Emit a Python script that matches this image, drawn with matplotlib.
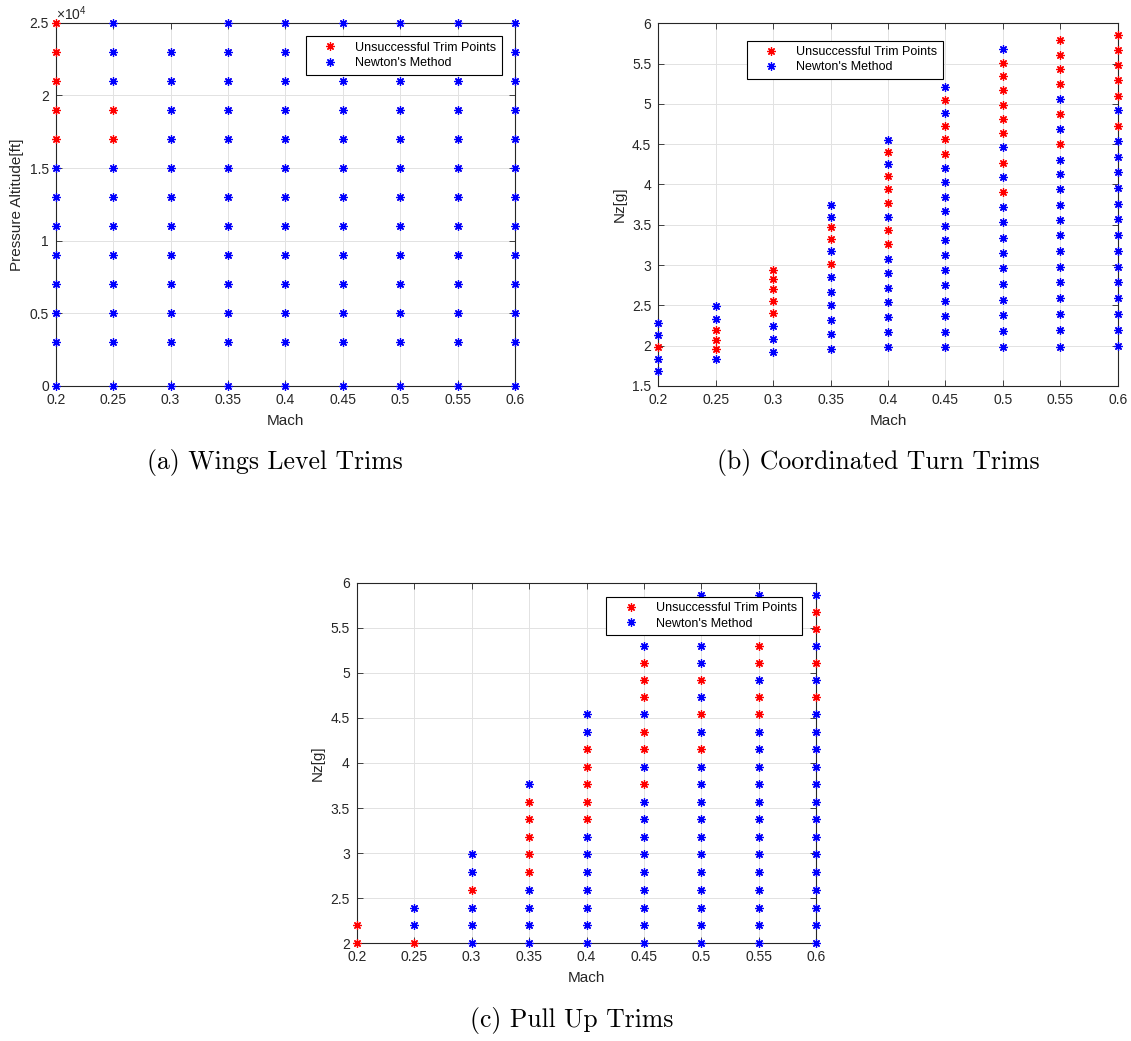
import matplotlib
matplotlib.use('Agg')
import matplotlib.pyplot as plt
from matplotlib.ticker import FuncFormatter

plt.rcParams['font.family'] = ['Liberation Sans', 'DejaVu Sans']
plt.rcParams['mathtext.fontset'] = 'custom'
plt.rcParams['mathtext.rm'] = 'Liberation Sans'
plt.rcParams['mathtext.it'] = 'Liberation Sans:italic'
plt.rcParams['axes.unicode_minus'] = False

# ---------------- data ----------------
MACH = [0.2, 0.25, 0.3, 0.35, 0.4, 0.45, 0.5, 0.55, 0.6]
MACH_LABELS = ['0.2', '0.25', '0.3', '0.35', '0.4', '0.45', '0.5', '0.55', '0.6']

# (a) Wings level: pressure altitude [ft] tried at each Mach, and the unsuccessful ones
ALT_FULL = [0, 3000, 5000, 7000, 9000, 11000, 13000, 15000, 17000, 19000, 21000, 23000, 25000]
ALT_NO_TOP = [0, 3000, 5000, 7000, 9000, 11000, 13000, 15000, 17000, 19000, 21000, 23000]
wl_alt = [ALT_FULL, ALT_FULL, ALT_NO_TOP, ALT_FULL, ALT_FULL, ALT_FULL, ALT_FULL, ALT_FULL, ALT_FULL]
wl_fail = [[17000, 19000, 21000, 23000, 25000], [17000, 19000], [], [], [], [], [], [], []]
wl_yticks = [0, 5000, 10000, 15000, 20000, 25000]

# (b) Coordinated turn: Nz [g]
ct_nz = [
    [1.68, 1.83, 1.98, 2.13, 2.28],
    [1.83, 1.96, 2.07, 2.20, 2.33, 2.49],
    [1.92, 2.08, 2.25, 2.41, 2.56, 2.70, 2.83, 2.94],
    [1.96, 2.14, 2.32, 2.50, 2.67, 2.85, 3.01, 3.17, 3.32, 3.47, 3.60, 3.74],
    [1.98, 2.17, 2.36, 2.54, 2.72, 2.90, 3.08, 3.26, 3.43, 3.60, 3.77, 3.94, 4.10, 4.26, 4.40, 4.55],
    [1.98, 2.17, 2.37, 2.56, 2.75, 2.94, 3.13, 3.31, 3.49, 3.67, 3.85, 4.03, 4.21, 4.38, 4.56, 4.72,
     4.89, 5.05, 5.21],
    [1.98, 2.18, 2.38, 2.57, 2.77, 2.96, 3.15, 3.34, 3.53, 3.72, 3.91, 4.09, 4.27, 4.46, 4.64, 4.81,
     4.99, 5.17, 5.34, 5.51, 5.68],
    [1.99, 2.19, 2.39, 2.59, 2.79, 2.98, 3.18, 3.37, 3.56, 3.75, 3.94, 4.13, 4.31, 4.50, 4.69, 4.88,
     5.06, 5.25, 5.43, 5.61, 5.79],
    [2.00, 2.19, 2.39, 2.59, 2.79, 2.98, 3.18, 3.37, 3.57, 3.76, 3.96, 4.15, 4.34, 4.54, 4.72, 4.92,
     5.10, 5.30, 5.48, 5.67, 5.86],
]
ct_fail = [
    [1.98],
    [1.96, 2.07, 2.20],
    [2.41, 2.56, 2.70, 2.83, 2.94],
    [3.01, 3.32, 3.47],
    [3.26, 3.43, 3.77, 3.94, 4.10, 4.40],
    [4.38, 4.56, 4.72, 5.05],
    [3.91, 4.27, 4.64, 4.81, 4.99, 5.17, 5.34, 5.51],
    [4.50, 4.88, 5.25, 5.43, 5.61, 5.79],
    [4.72, 5.10, 5.30, 5.48, 5.67, 5.86],
]
ct_yticks = [1.5, 2, 2.5, 3, 3.5, 4, 4.5, 5, 5.5, 6]

# (c) Pull up: Nz [g]
PU_LEVELS = [2.00, 2.20, 2.39, 2.59, 2.79, 2.99, 3.18, 3.38, 3.57, 3.77, 3.96, 4.15, 4.34, 4.54,
             4.73, 4.92, 5.11, 5.30, 5.49, 5.68, 5.86]
pu_count = [2, 3, 6, 10, 14, 18, 21, 21, 21]
pu_fail = [
    [2.00, 2.20],
    [2.00],
    [2.59],
    [2.79, 2.99, 3.18, 3.38, 3.57],
    [3.38, 3.57, 3.77, 3.96, 4.15],
    [3.77, 4.15, 4.34, 4.73, 4.92, 5.11],
    [4.15, 4.54, 4.92],
    [4.54, 4.73, 5.11, 5.30],
    [4.73, 5.11, 5.49, 5.68],
]
pu_yticks = [2, 2.5, 3, 3.5, 4, 4.5, 5, 5.5, 6]

LABEL_FAIL = 'Unsuccessful Trim Points'
LABEL_OK = "Newton's Method"

# ---------------- figure ----------------
W, H = 1131, 1041
fig = plt.figure(figsize=(W / 100, H / 100), dpi=100)

def add_axes_px(x0, y0, x1, y1):
    return fig.add_axes([x0 / W, 1 - y1 / H, (x1 - x0) / W, (y1 - y0) / H])

RED = '#ff0000'
BLUE = '#0000ff'
DARK = '#262626'
STAR = (8, 2, 0)
MS = 6
MEW = 0.9

def draw(ax, values, fails):
    xf, yf, xo, yo = [], [], [], []
    for m, vals, bad in zip(MACH, values, fails):
        for v in vals:
            if v in bad:
                xf.append(m); yf.append(v)
            else:
                xo.append(m); yo.append(v)
    # red attempt marker beneath the successful ones (gives the faint purple fringe)
    ax.plot(xo, yo, ls='none', marker=STAR, ms=MS - 0.5, mew=0.6, mec=RED, mfc=RED,
            clip_on=False, zorder=2.9)
    ax.plot(xf, yf, ls='none', marker=STAR, ms=MS, mew=MEW, mec=RED, mfc=RED,
            clip_on=False, zorder=3, label=LABEL_FAIL)
    ax.plot(xo, yo, ls='none', marker=STAR, ms=MS, mew=MEW, mec=BLUE, mfc=BLUE,
            clip_on=False, zorder=3.1, label=LABEL_OK)

def style(ax, yticks, ylim, ylabel, yfmt, leg_anchor):
    ax.set_xlim(0.2, 0.6)
    ax.set_xticks(MACH)
    ax.set_xticklabels(MACH_LABELS)
    ax.set_ylim(*ylim)
    ax.set_yticks(yticks)
    ax.yaxis.set_major_formatter(FuncFormatter(yfmt))
    ax.tick_params(direction='in', top=True, right=True, length=4, width=0.6,
                   colors=DARK, labelsize=10)
    ax.tick_params(axis='x', pad=5)
    ax.tick_params(axis='y', pad=5)
    ax.grid(True, color='#e2e2e2', lw=0.7)
    ax.set_axisbelow(True)
    for s in ax.spines.values():
        s.set_color(DARK)
        s.set_linewidth(0.8)
    ax.set_xlabel('Mach', fontsize=11, color=DARK, labelpad=5)
    ax.set_ylabel(ylabel, fontsize=11, color=DARK, labelpad=4)
    leg = ax.legend(loc='upper right', bbox_to_anchor=leg_anchor, fontsize=9,
                    frameon=True, fancybox=False, edgecolor='black', framealpha=1,
                    borderpad=0.45, handlelength=3.0, handletextpad=0.5,
                    labelspacing=0.25, borderaxespad=0)
    leg.get_frame().set_linewidth(0.8)
    leg.set_zorder(10)

# (a)
ax_a = add_axes_px(55.7, 22.7, 515, 386)
draw(ax_a, wl_alt, wl_fail)
style(ax_a, wl_yticks, (0, 25000), 'Pressure Altitude[ft]',
      lambda v, p: '%g' % (v / 1e4), (0.972, 0.963))
ax_a.text(0.0, 1.0, r'$\times10^{4}$', transform=ax_a.transAxes, ha='left', va='bottom',
          fontsize=10, color=DARK)

# (b)
ax_b = add_axes_px(658.3, 23.3, 1117.7, 386)
draw(ax_b, ct_nz, ct_fail)
style(ax_b, ct_yticks, (1.5, 6), 'Nz[g]', lambda v, p: '%g' % v, (0.620, 0.952))

# (c)
pu_nz = [PU_LEVELS[:n] for n in pu_count]
ax_c = add_axes_px(356.7, 582.7, 816.3, 943.3)
draw(ax_c, pu_nz, pu_fail)
style(ax_c, pu_yticks, (2, 6), 'Nz[g]', lambda v, p: '%g' % v, (0.9696, 0.961))

# captions
cap_kw = dict(family='cmr10', fontsize=18.5, ha='center', va='center', color='black')
fig.text(275 / W, 1 - 463 / H, '(a) Wings Level Trims', **cap_kw)
fig.text(878 / W, 1 - 463 / H, '(b) Coordinated Turn Trims', **cap_kw)
fig.text(572 / W, 1 - 1021 / H, '(c) Pull Up Trims', **cap_kw)

fig.savefig('out.png', dpi=100, facecolor='white')
